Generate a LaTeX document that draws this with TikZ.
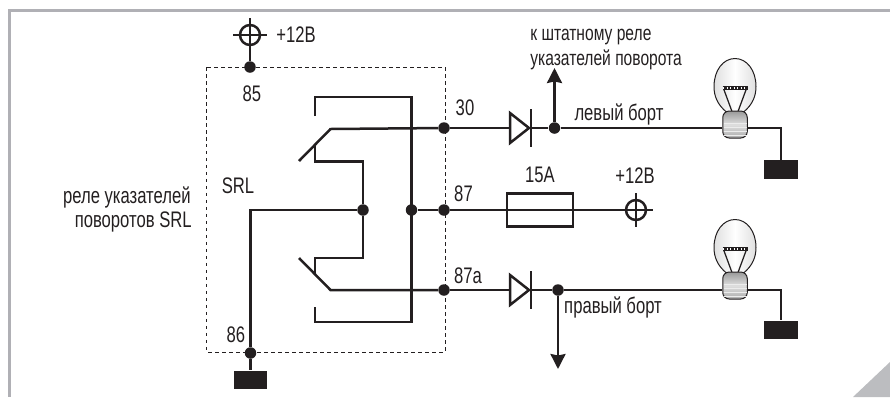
\documentclass[tikz,border=0pt]{standalone}
\usepackage{fontspec}
\setmainfont[FakeStretch=0.74]{Liberation Sans}
\usepackage{xcolor}
\usetikzlibrary{positioning,calc,arrows.meta}
\definecolor{ink}{HTML}{231F20}
\definecolor{framegray}{HTML}{B0B0B5}
\definecolor{cornergray}{HTML}{BCBDC0}
\tikzset{
    wire/.style={ink, line width=0.05cm},
    junction/.style={circle, fill=ink, inner sep=0pt, minimum size=0.23cm},
    ground/.style={rectangle, fill=ink, inner sep=0pt, minimum width=0.68cm, minimum height=0.37cm},
    terminal/.style={circle, draw=ink, line width=0.05cm, inner sep=0pt, minimum size=0.4cm},
    lampbase/.style={rectangle, rounded corners=0.13cm, draw=ink, line width=0.02cm, inner sep=0pt, minimum width=0.49cm, minimum height=0.54cm, top color=gray!80, bottom color=gray!65, middle color=gray!25},
    lbl/.style={ink, inner sep=0pt, font=\fontsize{12.8}{15}\selectfont},
    smalllbl/.style={ink, inner sep=0pt, font=\fontsize{12}{14}\selectfont},
    outlet/.style={wire, -{Stealth[length=0.3cm,width=0.3cm,inset=0.03cm]}}
}
\begin{document}
\begin{tikzpicture}[x=0.02cm, y=-0.02cm]
    \useasboundingbox (0,0) rectangle (890,397);

    % Frame
    \draw[framegray, line width=0.06cm] (890,10.5) -- (9.5,10.5) -- (9.5,397);
    \fill[cornergray] (853,397) -- (890,362) -- (890,397) -- cycle;

    % Relay box
    \draw[ink, line width=0.02cm, dash pattern=on 0.07cm off 0.07cm] (206.5,67) rectangle (445,352);

    % Points
    \node[terminal] (vccTop) at (250,35) {};
    \node[terminal] (vccFuse) at (636,210) {};
    \node[junction] (j85) at (250,67) {};
    \node[junction] (j86) at (250.5,353) {};
    \node[junction] (j30) at (444,128) {};
    \node[junction] (j87) at (444,210) {};
    \node[junction] (j87a) at (444,290) {};
    \node[junction] (jCoil) at (363,210) {};
    \node[junction] (jBar) at (411.5,210) {};
    \node[junction] (jLeft) at (554.5,128) {};
    \node[junction] (jRight) at (558,290) {};
    \node[ground] (gnd86) at (250.5,380) {};
    \node[ground] (gndLeft) at (781,169.5) {};
    \node[ground] (gndRight) at (781,330) {};
    \node[rectangle, draw=ink, line width=0.05cm, inner sep=0pt, minimum width=1.32cm, minimum height=0.66cm] (fuse) at (540,210) {};

    % Terminal crosses
    \foreach \t in {vccTop, vccFuse} {
        \draw[wire] ($(\t)+(-17,0)$) -- ($(\t)+(17,0)$);
        \draw[wire] ($(\t)+(0,-17)$) -- ($(\t)+(0,17)$);
    }
    \draw[wire] (vccTop) -- (j85);

    % Relay contacts
    \coordinate (armTop) at (330.5,129);
    \coordinate (armBot) at (330.5,290);
    \draw[wire] (315,116) -- (315,97) -- (411.5,97) -- (411.5,322) -- (315,322) -- (315,307);
    \draw[wire] (299,161) -- (armTop) -- (j30);
    \draw[wire] (299,258) -- (armBot) -- (j87a);
    \draw[wire] (315,146) -- (315,161.5) -- (jCoil.center |- 0,161.5) -- (jCoil) -- (jCoil.center |- 0,258) -- (315,258) -- (315,274);
    \draw[wire] (j86) |- (jCoil);
    \draw[wire] (j86) -- (gnd86);

    % Middle line
    \draw[wire] (jBar) -- (j87) -- (fuse.west);
    \draw[wire] (fuse.west) -- (fuse.east) -- (vccFuse);

    % Diodes
    \foreach \s/\y in {Top/128, Bot/290} {
        \coordinate (diode\s) at (510,\y);
        \coordinate (bar\s) at (531,\y);
        \draw[wire, line join=miter] (diode\s) ++(0,-15) -- ++(19,15) -- ++(-19,15) -- cycle;
        \draw[wire] ($(bar\s)+(0,-19)$) -- ($(bar\s)+(0,19)$);
    }
    \draw[wire] (j30) -- (diodeTop);
    \draw[wire] (barTop) -- (jLeft);
    \draw[wire] (j87a) -- (diodeBot);
    \draw[wire] (barBot) -- (jRight);

    % Outlets
    \coordinate (outLeft) at (554.5,68);
    \coordinate (outRight) at (558,369);
    \draw[outlet] (jLeft) -- (outLeft);
    \draw[outlet] (jRight) -- (outRight);

    % Lamps
    \foreach \s/\y/\j/\g in {L/124.5/jLeft/gndLeft, R/285.5/jRight/gndRight} {
        \coordinate (lamp\s) at (735,\y);
        \draw[ink, line width=0.02cm, left color=gray!25, right color=gray!25, middle color=white] ($(lamp\s)+(-8,-12)$) .. controls ($(lamp\s)+(-18,-20)$) and ($(lamp\s)+(-21,-29)$) .. ($(lamp\s)+(-21,-38)$) .. controls ($(lamp\s)+(-21,-54)$) and ($(lamp\s)+(-12,-66)$) .. ($(lamp\s)+(0,-66)$) .. controls ($(lamp\s)+(12,-66)$) and ($(lamp\s)+(21,-54)$) .. ($(lamp\s)+(21,-38)$) .. controls ($(lamp\s)+(21,-29)$) and ($(lamp\s)+(18,-20)$) .. ($(lamp\s)+(8,-12)$) -- cycle;
        \draw[ink, line width=0.025cm] ($(lamp\s)+(-11.5,-36)$) -- ($(lamp\s)+(-3,-13)$);
        \draw[ink, line width=0.025cm] ($(lamp\s)+(11.5,-36)$) -- ($(lamp\s)+(3,-13)$);
        \draw[ink, line width=0.07cm] ($(lamp\s)+(-12.5,-36.5)$) -- ($(lamp\s)+(12.5,-36.5)$);
        \draw[white, line width=0.025cm, dash pattern=on 0.02cm off 0.05cm] ($(lamp\s)+(-12,-36.5)$) -- ($(lamp\s)+(12,-36.5)$);
        \node[lampbase] (base\s) at (lamp\s) {};
        \foreach \d in {-1,3,7,11} \draw[gray!15, line width=0.025cm] ($(lamp\s)+(-11.5,\d)$) -- ($(lamp\s)+(11.5,\d)$);
        \draw[wire] (\j) -- (\j -| base\s.west);
        \draw[wire] (\j -| base\s.east) -| (\g.north);
    }

    % Labels
    \node[lbl, anchor=west] (l12Top) at (276,35) {+12В};
    \node[lbl] (l85) at (252,93.5) {85};
    \node[lbl] (l86) at (236,335) {86};
    \node[lbl] (l30) at (465,108) {30};
    \node[lbl] (l87) at (463.5,193.5) {87};
    \node[lbl] (l87a) at (468,276) {87a};
    \node[lbl] (lSRL) at (238,186) {SRL};
    \node[lbl] (l15A) at (540,175) {15А};
    \node[lbl] (l12Fuse) at (635,176) {+12В};
    \node[smalllbl, anchor=west] (lRelay) at (530,37) {к штатному реле};
    \node[smalllbl, anchor=west] (lTurn) at (530,60) {указателей поворота};
    \node[lbl] (lLeft) at (619,114) {левый борт};
    \node[lbl] (lRight) at (613,307) {правый борт};
    \node[lbl, anchor=east] (lName1) at (191,197) {реле указателей};
    \node[lbl, anchor=east] (lName2) at (192,222) {поворотов SRL};
\end{tikzpicture}
\end{document}
